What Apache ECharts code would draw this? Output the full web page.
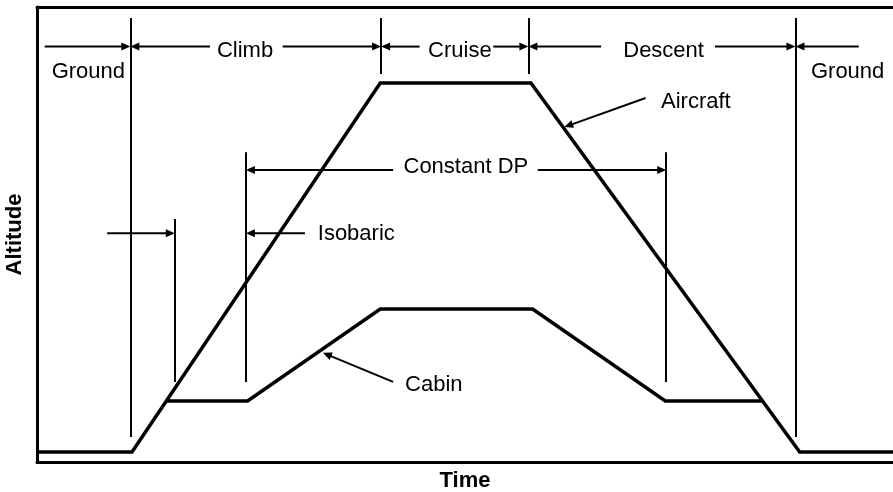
<!DOCTYPE html>
<html>
<head>
    <meta http-equiv="Content-Type" content="text/html; charset=UTF-8">
    <title>Altitude vs Time</title>
    <script type="text/javascript" src="https://cdn.jsdelivr.net/npm/echarts@6/dist/echarts.min.js"></script>
</head>
<body style="margin:0;">
    <div id="main" style="width: 893px;height:492px;"></div>
    <script type="text/javascript">
        // profile of the aircraft (schematic units, 0-100)
        var aircraftTime = [0, 11.1, 40.1, 57.7, 89.1, 100];
        var aircraftAlt = [2.2, 2.2, 83.3, 83.3, 2.2, 2.2];
        // profile of the cabin
        var cabinTime = [15.1, 24.6, 40.1, 57.9, 73.4, 84.7];
        var cabinAlt = [13.4, 13.4, 33.6, 33.6, 13.4, 13.4];

        // vertical phase markers: x, from, to
        var markerX = [10.9, 16.1, 24.4, 40.2, 57.4, 73.5, 88.6];
        var markerFrom = [5.5, 17.6, 17.6, 85.3, 85.3, 17.6, 5.5];
        var markerTo = [97.6, 53.4, 68.1, 97.6, 97.6, 68.1, 97.6];

        // arrows: start x, start y, head x, head y
        var arrowX1 = [0.9, 20.2, 28.7, 44.7, 53.3, 65.9, 79.2, 96.0, 41.6, 58.5, 8.2, 31.3, 71.1, 41.6];
        var arrowY1 = [91.3, 91.3, 91.3, 91.3, 91.3, 91.3, 91.3, 91.3, 64.2, 64.2, 50.3, 50.3, 80.0, 17.6];
        var arrowX2 = [10.9, 10.9, 40.2, 40.2, 57.4, 57.4, 88.6, 88.6, 24.4, 73.5, 16.1, 24.4, 61.6, 33.4];
        var arrowY2 = [91.3, 91.3, 91.3, 91.3, 91.3, 91.3, 91.3, 91.3, 64.2, 64.2, 50.3, 50.3, 73.6, 24.0];

        // text labels
        var labelText = ['Ground', 'Climb', 'Cruise', 'Descent', 'Ground', 'Constant DP', 'Isobaric', 'Aircraft', 'Cabin'];
        var labelX = [6.0, 24.3, 49.4, 73.2, 94.7, 50.1, 32.8, 72.9, 43.0];
        var labelY = [85.8, 90.4, 90.4, 90.4, 85.8, 64.9, 50.2, 79.2, 17.0];
        var labelAlign = ['center', 'center', 'center', 'center', 'center', 'center', 'left', 'left', 'left'];

        var font = 'Liberation Sans, Arial, sans-serif';

        function pairs(xs, ys) {
            var out = [];
            for (var i = 0; i < xs.length; i++) {
                out.push([xs[i], ys[i]]);
            }
            return out;
        }

        var markerData = [];
        for (var i = 0; i < markerX.length; i++) {
            markerData.push({coords: [[markerX[i], markerFrom[i]], [markerX[i], markerTo[i]]]});
        }
        var arrowData = [];
        for (var i = 0; i < arrowX1.length; i++) {
            arrowData.push([arrowX1[i], arrowY1[i], arrowX2[i], arrowY2[i]]);
        }
        var textData = [];
        for (var i = 0; i < labelText.length; i++) {
            textData.push({
                value: [labelX[i], labelY[i]],
                name: labelText[i],
                label: {align: labelAlign[i]}
            });
        }

        // shaft + filled head, tip sitting exactly on the end point
        function renderArrow(params, api) {
            var p1 = api.coord([api.value(0), api.value(1)]);
            var p2 = api.coord([api.value(2), api.value(3)]);
            var dx = p2[0] - p1[0], dy = p2[1] - p1[1];
            var len = Math.sqrt(dx * dx + dy * dy);
            var ux = dx / len, uy = dy / len;
            var headLen = 9, headHalf = 4;
            var bx = p2[0] - ux * headLen, by = p2[1] - uy * headLen;
            return {
                type: 'group',
                children: [{
                    type: 'line',
                    shape: {x1: p1[0], y1: p1[1], x2: bx + ux, y2: by + uy},
                    style: {stroke: '#000', lineWidth: 2}
                }, {
                    type: 'polygon',
                    shape: {points: [
                        [p2[0], p2[1]],
                        [bx - uy * headHalf, by + ux * headHalf],
                        [bx + uy * headHalf, by - ux * headHalf]
                    ]},
                    style: {fill: '#000'}
                }]
            };
        }

        var myChart = echarts.init(document.getElementById('main'));
        myChart.setOption({
            animation: false,
            backgroundColor: '#fff',
            grid: {left: 37, right: 0, top: 7, bottom: 30, outerBoundsMode: 'none', containLabel: false},
            xAxis: [{
                type: 'value', min: 0, max: 100,
                name: 'Time', nameLocation: 'middle', nameGap: 8,
                nameTextStyle: {fontFamily: font, fontSize: 22, fontWeight: 'bold', color: '#000'},
                axisLine: {show: true, onZero: false, lineStyle: {color: '#000', width: 3}},
                axisTick: {show: false}, axisLabel: {show: false}, splitLine: {show: false}
            }, {
                type: 'value', min: 0, max: 100, position: 'top',
                axisLine: {show: true, onZero: false, lineStyle: {color: '#000', width: 3}},
                axisTick: {show: false}, axisLabel: {show: false}, splitLine: {show: false}
            }],
            yAxis: {
                type: 'value', min: 0, max: 100,
                name: 'Altitude', nameLocation: 'middle', nameGap: 11,
                nameTextStyle: {fontFamily: font, fontSize: 22, fontWeight: 'bold', color: '#000'},
                axisLine: {show: true, onZero: false, lineStyle: {color: '#000', width: 3}},
                axisTick: {show: false}, axisLabel: {show: false}, splitLine: {show: false}
            },
            series: [{
                name: 'Aircraft',
                type: 'line',
                data: pairs(aircraftTime, aircraftAlt),
                symbol: 'none',
                lineStyle: {color: '#000', width: 3.5, join: 'miter'}
            }, {
                name: 'Cabin',
                type: 'line',
                data: pairs(cabinTime, cabinAlt),
                symbol: 'none',
                lineStyle: {color: '#000', width: 3.5, join: 'miter'}
            }, {
                name: 'markers',
                type: 'lines',
                coordinateSystem: 'cartesian2d',
                data: markerData,
                symbol: 'none',
                lineStyle: {color: '#000', width: 2, opacity: 1, curveness: 0}
            }, {
                name: 'arrows',
                type: 'custom',
                renderItem: renderArrow,
                encode: {x: [0, 2], y: [1, 3]},
                data: arrowData
            }, {
                name: 'labels',
                type: 'scatter',
                data: textData,
                symbolSize: 0,
                itemStyle: {opacity: 1, color: '#000'},
                label: {
                    show: true,
                    position: 'inside',
                    verticalAlign: 'middle',
                    formatter: '{b}',
                    fontFamily: font,
                    fontSize: 22,
                    color: '#000',
                    textBorderWidth: 0
                }
            }]
        });
    </script>
</body>
</html>
